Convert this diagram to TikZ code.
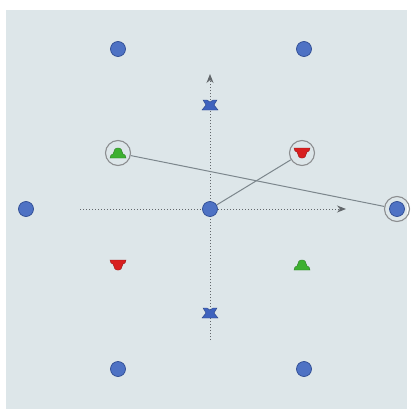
\documentclass[tikz,border=0pt]{standalone}
\usepackage{xcolor}
\usepackage{tikz}
\usetikzlibrary{arrows.meta,positioning,calc}
\definecolor{panelC}{HTML}{DDE6E9}
\definecolor{dotB}{HTML}{4E72C4}
\definecolor{dotE}{HTML}{2E4C93}
\definecolor{molR}{HTML}{D81F1F}
\definecolor{molG}{HTML}{3DB030}
\definecolor{molB}{HTML}{3F63BE}
\definecolor{ringL}{HTML}{8C8E90}
\definecolor{linkL}{HTML}{7C868C}
\definecolor{axisD}{HTML}{62676B}
\tikzset{
  bluedot/.style={circle, fill=dotB, draw=dotE, line width=0.7pt,
                  minimum size=15pt, inner sep=0pt},
  ring/.style={circle, draw=ringL, line width=1.1pt,
               minimum size=25pt, inner sep=0pt},
  link/.style={linkL, line width=1pt},
  axisline/.style={axisD, dotted, line width=1pt,
                   -{Stealth[length=9pt, width=7pt]}},
  pics/cupup/.style={code={
    \fill[#1, draw=#1!70!black, line width=0.4pt]
      (-8,5) -- (8,5) -- (7,2) -- (5,1) -- (3,-4) -- (1,-5) -- (-1,-5)
      -- (-3,-4) -- (-5,1) -- (-7,2) -- cycle;}},
  pics/cupdown/.style={code={
    \fill[#1, draw=#1!70!black, line width=0.4pt]
      (-8,-5) -- (8,-5) -- (7,-2) -- (5,-1) -- (3,4) -- (1,5) -- (-1,5)
      -- (-3,4) -- (-5,-1) -- (-7,-2) -- cycle;}},
  pics/cupside/.style={code={
    \fill[#1, draw=#1!70!black, line width=0.4pt]
      (-7,-5) -- (-3,-5) -- (0,-3) -- (3,-5) -- (7,-5) -- (4,0)
      -- (8,5) -- (-8,5) -- (-4,0) -- cycle;}},
}
\begin{document}
\begin{tikzpicture}[x=1pt, y=-1pt]
  \useasboundingbox (0,0) rectangle (413,415);
  \fill[white] (0,0) rectangle (413,415);
  \fill[panelC] (6,10) rectangle (407,409);
  % axes
  \coordinate (xl) at (80,209);
  \coordinate (xr) at (346,209);
  \coordinate (yb) at (210,340);
  \coordinate (yt) at (210,74);
  \draw[axisline] (xl) -- (xr);
  \draw[axisline] (yb) -- (yt);
  % lattice points
  \node[bluedot] (d1) at (118,49) {};
  \node[bluedot] (d2) at (304,49) {};
  \node[bluedot] (d3) at (26,209) {};
  \node[bluedot] (d0) at (210,209) {};
  \node[bluedot] (d4) at (397,209) {};
  \node[bluedot] (d5) at (118,369) {};
  \node[bluedot] (d6) at (304,369) {};
  % molecules
  \pic at (210,105) {cupside=molB};
  \pic at (210,313) {cupside=molB};
  \pic at (118,153) {cupup=molG};
  \pic at (302,153) {cupdown=molR};
  \pic at (118,265) {cupdown=molR};
  \pic at (302,265) {cupup=molG};
  % selection rings
  \node[ring] (rg) at (118,153) {};
  \node[ring] (rr) at (302,153) {};
  \node[ring] (rb) at (397,209) {};
  % links
  \draw[link] (rg) -- (rb);
  \draw[link] (d0) -- (rr);
\end{tikzpicture}
\end{document}
